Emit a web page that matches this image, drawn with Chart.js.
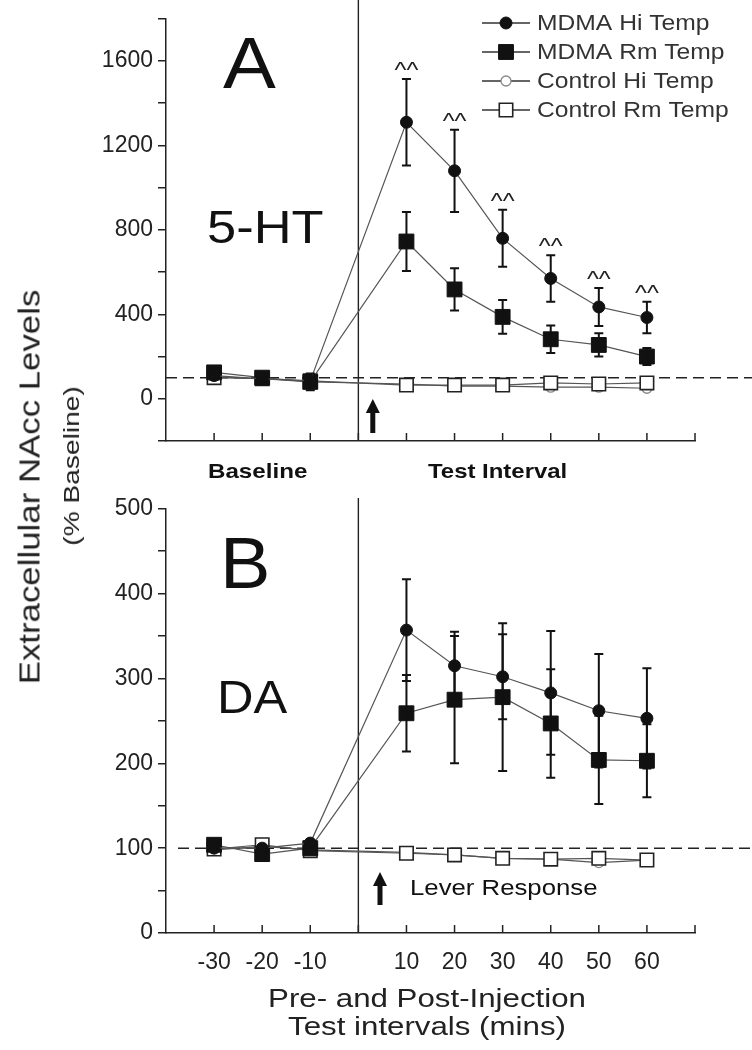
<!DOCTYPE html>
<html lang="en">
<head>
<meta charset="UTF-8">
<title>Extracellular NAcc 5-HT and DA</title>
<style>
  body { margin: 0; background: #fff; font-family: "Liberation Sans", Arial, sans-serif; }
  #wrap { position: relative; width: 752px; height: 1050px; overflow: hidden; }
  #topBox { position: absolute; left: 0; top: 0; width: 752px; height: 490px; }
  #botBox { position: absolute; left: 0; top: 490px; width: 752px; height: 560px; }
  .rot { position: absolute; white-space: nowrap; color: #222; }
  .xt { position: absolute; left: 427px; transform: translateX(-50%) scaleX(1.25); white-space: nowrap; color: #222; font-size: 25px; }
</style>
</head>
<body>
<div id="wrap">
  <div id="topBox"><canvas id="topChart" width="752" height="490"></canvas></div>
  <div id="botBox"><canvas id="botChart" width="752" height="560"></canvas></div>
  <div class="rot" style="left:30px; top:487px; font-size:29px; transform: translate(-50%, -50%) rotate(-90deg) scaleX(1.2);">Extracellular NAcc Levels</div>
  <div class="rot" style="left:72px; top:466px; font-size:22px; transform: translate(-50%, -50%) rotate(-90deg) scaleX(1.28);">(% Baseline)</div>
  <div class="xt" style="top:984px;">Pre- and Post-Injection</div>
  <div class="xt" style="top:1012px;">Test intervals (mins)</div>
</div>

<script src="https://cdn.jsdelivr.net/npm/chart.js"></script>
<script>
// x positions (mins relative to injection)
const xVals = [-30, -20, -10, 10, 20, 30, 40, 50, 60];
const seriesNames = ['MDMA Hi Temp', 'MDMA Rm Temp', 'Control Hi Temp', 'Control Rm Temp'];

// Panel A: 5-HT
const htMdmaHi    = [110, 95, 85, 1310, 1080, 760, 570, 435, 385];
const htMdmaHiErr = [20, 10, 15, 205, 195, 135, 110, 90, 75];
const htMdmaRm    = [125, 100, 80, 745, 518, 388, 282, 255, 200];
const htMdmaRmErr = [20, 10, 40, 140, 100, 80, 65, 55, 40];
const htCtrlHi    = [105, 95, 80, 70, 60, 60, 55, 55, 50];
const htCtrlRm    = [100, 95, 85, 65, 65, 65, 75, 70, 75];

// Panel B: DA
const daMdmaHi    = [100, 100, 106, 357, 315, 302, 283, 262, 253];
const daMdmaHiErr = [0, 0, 0, 60, 40, 50, 73, 67, 59];
const daMdmaRm    = [104, 93, 100, 259, 275, 278, 247, 204, 203];
const daMdmaRmErr = [0, 0, 0, 45, 75, 87, 64, 52, 43];
const daCtrlHi    = [98, 102, 98, 95, 92, 88, 87, 83, 86];
const daCtrlRm    = [99, 104, 97, 94, 92, 88, 87, 88, 86];

const FONT = '"Liberation Sans", Arial, sans-serif';
const tickFont = { family: FONT, size: 23 };
const axisColor = '#222';

function pts(vals) {
    return vals.map((v, i) => ({ x: xVals[i], y: v }));
}

function makeSets(mHi, mRm, cHi, cRm) {
    const base = { showLine: true, borderColor: '#555', borderWidth: 1.2, clip: false };
    return [
        Object.assign({}, base, { label: seriesNames[0], data: pts(mHi), pointStyle: 'circle', pointRadius: 6,
            pointBackgroundColor: '#111', pointBorderColor: '#111', pointBorderWidth: 1 }),
        Object.assign({}, base, { label: seriesNames[1], data: pts(mRm), pointStyle: 'rect', pointRadius: 10.5,
            pointBackgroundColor: '#111', pointBorderColor: '#111', pointBorderWidth: 1 }),
        Object.assign({}, base, { label: seriesNames[3], data: pts(cRm), pointStyle: 'rect', pointRadius: 9.5,
            pointBackgroundColor: '#fff', pointBorderColor: '#222', pointBorderWidth: 1.6 }),
        Object.assign({}, base, { label: seriesNames[2], data: pts(cHi), pointStyle: 'circle', pointRadius: 5,
            pointBackgroundColor: '#fff', pointBorderColor: '#888', pointBorderWidth: 1.3 })
    ];
}

// text drawn a little wider, like the source figure
function wideText(ctx, text, x, y, font, sx) {
    ctx.save();
    ctx.font = font;
    ctx.translate(x, y);
    ctx.scale(sx, 1);
    ctx.fillText(text, 0, 0);
    ctx.restore();
}

function drawArrow(ctx, x, yTip, yEnd) {
    ctx.save();
    ctx.fillStyle = '#111';
    ctx.beginPath();
    ctx.moveTo(x, yTip);
    ctx.lineTo(x - 7, yTip + 14);
    ctx.lineTo(x + 7, yTip + 14);
    ctx.closePath();
    ctx.fill();
    ctx.fillRect(x - 2.5, yTip + 12, 5, yEnd - yTip - 12);
    ctx.restore();
}

// reference line, divider, error bars, inward x ticks and labels
function panelPlugin(p) {
    return {
        id: 'panel_' + p.id,
        beforeDatasetsDraw(chart) {
            const { ctx, chartArea, scales } = chart;
            const y100 = scales.y.getPixelForValue(100);
            ctx.save();
            ctx.strokeStyle = '#222';
            ctx.lineWidth = 1.5;
            ctx.setLineDash([11, 6]);
            ctx.beginPath();
            ctx.moveTo(chartArea.left + p.dashStart, y100);
            ctx.lineTo(chart.width, y100);
            ctx.stroke();
            ctx.setLineDash([]);
            // divider at injection
            const x0 = scales.x.getPixelForValue(0);
            ctx.lineWidth = 1.4;
            ctx.beginPath();
            ctx.moveTo(x0, p.dividerTop);
            ctx.lineTo(x0, chartArea.bottom);
            ctx.stroke();
            ctx.restore();
        },
        afterDatasetsDraw(chart) {
            const { ctx, chartArea, scales } = chart;
            ctx.save();
            // error bars
            ctx.strokeStyle = '#111';
            ctx.lineWidth = 2;
            p.errs.forEach(e => {
                e.vals.forEach((v, i) => {
                    const err = e.err[i];
                    if (!err) return;
                    const x = scales.x.getPixelForValue(xVals[i]);
                    const yt = scales.y.getPixelForValue(v + err);
                    const yb = scales.y.getPixelForValue(v - err);
                    ctx.beginPath();
                    ctx.moveTo(x, yt); ctx.lineTo(x, yb);
                    ctx.moveTo(x - 4.5, yt); ctx.lineTo(x + 4.5, yt);
                    ctx.moveTo(x - 4.5, yb); ctx.lineTo(x + 4.5, yb);
                    ctx.stroke();
                });
            });
            // significance marks
            ctx.fillStyle = '#222';
            ctx.textAlign = 'center';
            ctx.textBaseline = 'alphabetic';
            if (p.marks) {
                p.marks.vals.forEach((v, i) => {
                    if (xVals[i] < 0) return;
                    const x = scales.x.getPixelForValue(xVals[i]);
                    const y = scales.y.getPixelForValue(v + p.marks.err[i]);
                    wideText(ctx, '^^', x, y - 2, '22px ' + FONT, 1.15);
                });
            }
            // inward x ticks
            ctx.strokeStyle = axisColor;
            ctx.lineWidth = 1.5;
            scales.x.ticks.forEach(t => {
                if (t.value <= scales.x.min) return;
                const x = scales.x.getPixelForValue(t.value);
                ctx.beginPath();
                ctx.moveTo(x, chartArea.bottom);
                ctx.lineTo(x, chartArea.bottom - 8);
                ctx.stroke();
            });
            // panel labels
            ctx.fillStyle = '#111';
            ctx.textAlign = 'left';
            p.texts.forEach(t => wideText(ctx, t.text, t.x, t.y, t.font, t.sx));
            // arrow
            drawArrow(ctx, scales.x.getPixelForValue(p.arrow.x), p.arrow.tip, p.arrow.end);
            // legend
            if (p.legend) {
                const order = [0, 1, 3, 2];
                order.forEach((di, row) => {
                    const ds = chart.data.datasets[di];
                    const y = 23 + row * 29;
                    ctx.strokeStyle = '#333';
                    ctx.lineWidth = 1.5;
                    ctx.beginPath();
                    ctx.moveTo(482, y); ctx.lineTo(530, y);
                    ctx.stroke();
                    ctx.fillStyle = ds.pointBackgroundColor;
                    ctx.strokeStyle = ds.pointBorderColor;
                    ctx.lineWidth = ds.pointBorderWidth;
                    Chart.helpers.drawPoint(ctx, { pointStyle: ds.pointStyle, radius: ds.pointRadius,
                        rotation: 0, borderWidth: ds.pointBorderWidth }, 506, y);
                    ctx.fillStyle = '#333';
                    ctx.textBaseline = 'middle';
                    wideText(ctx, ds.label, 537, y + 1, '22px ' + FONT, 1.12);
                });
            }
            ctx.restore();
        }
    };
}

function makePanel(id, sets, yMin, yMax, yStep, labelStep, labelMax, pad, xHeight, showX, plugin) {
    return new Chart(document.getElementById(id), {
        type: 'scatter',
        data: { datasets: sets },
        options: {
            responsive: false,
            animation: false,
            layout: { padding: pad },
            plugins: { legend: { display: false }, tooltip: { enabled: false } },
            scales: {
                x: {
                    type: 'linear', min: -40, max: 70,
                    grid: { display: false, drawTicks: false },
                    border: { display: true, color: axisColor, width: 1.5 },
                    ticks: {
                        display: showX, stepSize: 10, padding: 16, color: axisColor, font: tickFont,
                        callback: v => (xVals.includes(v) ? v : '')
                    },
                    afterFit: s => { s.height = xHeight; }
                },
                y: {
                    min: yMin, max: yMax,
                    grid: { drawOnChartArea: false, drawTicks: true, tickLength: 8, color: axisColor, lineWidth: 1.5 },
                    border: { display: true, color: axisColor, width: 1.5 },
                    ticks: {
                        stepSize: yStep, padding: 5, color: axisColor, font: tickFont,
                        callback: v => (v % labelStep === 0 && v >= 0 && v <= labelMax ? v : '')
                    },
                    afterFit: s => { s.width = 166; }
                }
            }
        },
        plugins: [plugin]
    });
}

const topPlugin = panelPlugin({
    id: 'A', dashStart: 0, dividerTop: 0, legend: true,
    errs: [{ vals: htMdmaHi, err: htMdmaHiErr }, { vals: htMdmaRm, err: htMdmaRmErr }],
    marks: { vals: htMdmaHi, err: htMdmaHiErr },
    arrow: { x: 3, tip: 399, end: 433 },
    texts: [
        { text: 'A', x: 223, y: 88, font: '72px ' + FONT, sx: 1.1 },
        { text: '5-HT', x: 207, y: 243, font: '46px ' + FONT, sx: 1.14 },
        { text: 'Baseline', x: 208, y: 478, font: 'bold 21px ' + FONT, sx: 1.15 },
        { text: 'Test Interval', x: 428, y: 478, font: 'bold 21px ' + FONT, sx: 1.14 }
    ]
});

const botPlugin = panelPlugin({
    id: 'B', dashStart: 12, dividerTop: 8, legend: false,
    errs: [{ vals: daMdmaHi, err: daMdmaHiErr }, { vals: daMdmaRm, err: daMdmaRmErr }],
    marks: null,
    arrow: { x: 4.5, tip: 382, end: 415 },
    texts: [
        { text: 'B', x: 220, y: 98, font: '72px ' + FONT, sx: 1.05 },
        { text: 'DA', x: 217, y: 223, font: '46px ' + FONT, sx: 1.1 },
        { text: 'Lever Response', x: 410, y: 405, font: '22px ' + FONT, sx: 1.17 }
    ]
});

makePanel('topChart', makeSets(htMdmaHi, htMdmaRm, htCtrlHi, htCtrlRm), -200, 1800, 100, 400, 1600,
    { top: 7, right: 57, left: 0, bottom: 0 }, 49, false, topPlugin);
makePanel('botChart', makeSets(daMdmaHi, daMdmaRm, daCtrlHi, daCtrlRm), 0, 500, 50, 100, 500,
    { top: 17, right: 57, left: 0, bottom: 0 }, 117, true, botPlugin);
</script>
</body>
</html>
